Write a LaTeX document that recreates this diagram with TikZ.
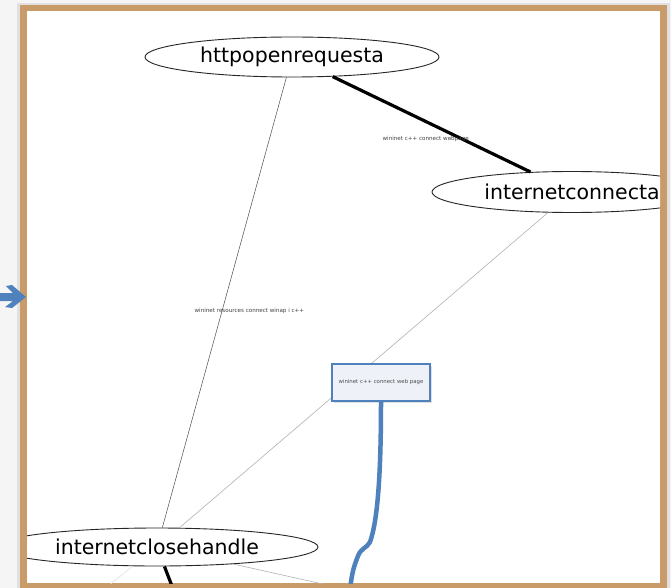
\documentclass[tikz,border=0pt]{standalone}
\usepackage{fontspec}
\setmainfont{DejaVu Sans}
\usetikzlibrary{shapes.geometric,arrows.meta,shadows}
\definecolor{framec}{RGB}{200,155,105}
\definecolor{bluel}{RGB}{79,129,189}
\definecolor{boxfill}{RGB}{238,242,248}
\tikzset{
  ell/.style={ellipse, draw=black!85, line width=0.9pt, fill=white, inner sep=0pt, font=\fontsize{20.5}{24}\selectfont},
  tiny/.style={font=\fontsize{5.6}{6.5}\selectfont, text=black!75, inner sep=0pt},
  thinedge/.style={draw=black!70, line width=0.5pt},
  greyedge/.style={draw=black!30, line width=0.6pt},
  thickedge/.style={draw=black, line width=3.2pt},
  bluebox/.style={draw=bluel, line width=1.3pt, fill=boxfill, minimum width=98pt, minimum height=37pt, inner sep=1pt, font=\fontsize{5.4}{6.5}\selectfont, text=black!70, drop shadow={shadow xshift=1.5pt, shadow yshift=-1.5pt, opacity=0.25}},
}
\begin{document}
\begin{tikzpicture}[x=1pt,y=-1pt]
\useasboundingbox (0,0) rectangle (671,588);
\fill[black!4] (0,0) rectangle (671,588);
\fill[black!12] (17,3) rectangle (670,590);
\fill[framec] (20,5) rectangle (667,590);
\fill[white] (27,11) rectangle (660,583);
\fill[bluel] (0,293) -- (13,293) -- (6,286) -- (12,285) -- (26,297) -- (12,308) -- (5,307) -- (13,301) -- (0,301) -- cycle;
\begin{scope}
\clip (27,11) rectangle (660,583);
\node[ell, minimum width=294pt, minimum height=40pt] (hor) at (292,57) {httpopenrequesta};
\node[ell, minimum width=280pt, minimum height=41pt] (ica) at (572,192) {internetconnecta};
\node[ell, minimum width=322pt, minimum height=38pt] (ich) at (157,547) {internetclosehandle};
\coordinate (o1) at (185,620);
\coordinate (o2) at (430,608);
\coordinate (o3) at (40,640);
\path[thickedge] (hor) -- node[tiny, pos=0.47, yshift=-17pt] {wininet c++ connect webpage} (ica);
\path[thinedge] (hor) -- node[tiny, pos=0.5, xshift=25pt, yshift=-8pt] {wininet resources connect winap i c++} (ich);
\path[greyedge] (ica) -- (ich);
\path[thickedge] (ich) -- (o1);
\path[greyedge] (ich) -- (o2);
\path[draw=black!12, line width=0.6pt] (ich) -- (o3);
\node[bluebox] (box) at (381,382.5) {wininet c++ connect web page};
\draw[bluel, line width=4.5pt] (box.south) .. controls (381,470) and (378,520) .. (370,542) .. controls (367,548) and (361,548) .. (358,556) .. controls (353,568) and (351,578) .. (350,592);
\end{scope}
\end{tikzpicture}
\end{document}
